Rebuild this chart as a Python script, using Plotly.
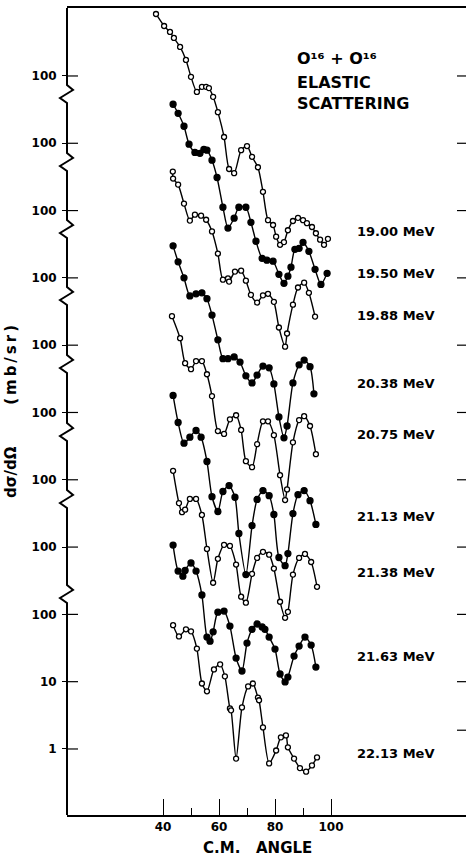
import math
import plotly.graph_objects as go

# ---------------- data (C.M. angle in degrees, dσ/dΩ in mb/sr) ----------------
energies = ["19.00 MeV", "19.50 MeV", "19.88 MeV", "20.38 MeV", "20.75 MeV",
            "21.13 MeV", "21.38 MeV", "21.63 MeV", "22.13 MeV"]
decade_shift = [8, 7, 6, 5, 4, 3, 2, 1, 0]          # each curve displaced by decades
filled = [False, True, False, True, False, True, False, True, False]

ang_1900 = [37.5, 40.4, 42.5, 43.9, 46.1, 48.2, 50.0, 52.1, 53.9, 55.4, 56.4, 57.9, 59.6, 61.8, 63.6, 65.4,
            67.9, 70.0, 71.8, 73.9, 75.7, 77.5, 79.3, 80.4, 81.8, 83.2, 84.6, 86.4, 88.2, 90.0, 91.4, 93.2,
            94.6, 96.1, 97.5, 98.9]
sig_1900 = [834, 553, 451, 367, 270, 173, 97, 58, 69, 69, 66, 49, 29, 12.4, 4.15, 3.6,
            7.9, 9.1, 6.3, 4.4, 1.9, 0.72, 0.61, 0.41, 0.31, 0.34, 0.51, 0.70, 0.78, 0.72, 0.65, 0.57,
            0.46, 0.37, 0.31, 0.38]

ang_1950 = [43.6, 45.4, 47.5, 49.3, 51.4, 53.2, 54.6, 55.7, 57.5, 59.3, 61.4, 63.2, 65.4, 67.1, 69.6, 71.4,
            73.2, 75.4, 77.1, 79.3, 81.4, 83.2, 84.6, 85.7, 87.1, 88.6, 90.0, 92.1, 94.3, 96.4, 98.6]
sig_1950 = [380, 279, 179, 97, 73, 71, 81, 79, 56, 31, 11.2, 5.5, 7.7, 11.2, 11.2, 6.7,
            3.5, 1.95, 1.83, 1.77, 1.13, 0.83, 1.06, 1.44, 2.66, 2.75, 3.38, 2.48, 1.34, 0.80, 1.17]

ang_1988 = [43.5, 43.6, 45.4, 47.5, 49.6, 51.4, 53.6, 55.4, 57.5, 59.6, 61.4, 63.2, 63.6, 65.7, 67.9, 69.6,
            71.4, 73.6, 75.7, 77.5, 79.6, 81.4, 83.6, 84.3, 86.4, 88.2, 90.4, 92.1, 94.3]
sig_1988 = [380, 299, 243, 127, 71, 87, 84, 73, 49, 23, 9.4, 9.8, 8.8, 12.4, 12.8, 9.1,
            5.6, 4.3, 5.5, 5.8, 4.4, 1.83, 0.95, 1.49, 4.0, 7.2, 8.5, 6.0, 2.66]

ang_2038 = [43.6, 45.4, 47.5, 49.6, 51.8, 53.9, 55.7, 57.5, 59.6, 61.4, 63.2, 65.4, 67.5, 69.6, 71.8, 73.6,
            75.7, 77.9, 79.6, 81.4, 83.2, 84.3, 86.4, 88.6, 90.4, 92.5, 93.9]
sig_2038 = [299, 173, 100, 54, 58, 60, 49, 28, 12.0, 6.3, 6.3, 6.7, 5.6, 3.5, 2.75, 3.6,
            4.9, 4.6, 2.66, 0.86, 0.42, 0.63, 2.75, 5.1, 6.0, 4.8, 1.89]

ang_2075 = [43.2, 46.1, 47.9, 50.0, 51.8, 53.9, 55.7, 57.5, 59.6, 61.8, 63.9, 66.1, 67.9, 69.6, 71.8, 73.6,
            75.7, 77.5, 79.6, 81.8, 83.6, 84.3, 86.4, 88.6, 90.4, 92.5, 94.6]
sig_2075 = [270, 127, 54, 44, 58, 58, 37, 17.5, 5.3, 4.8, 7.9, 9.1, 5.5, 1.89, 1.54, 3.38,
            7.4, 7.4, 4.6, 1.17, 0.50, 0.72, 3.6, 7.7, 8.8, 6.3, 2.40]

ang_2113 = [43.6, 45.4, 47.5, 49.6, 51.8, 53.6, 55.7, 57.5, 59.6, 61.4, 63.6, 65.7, 67.1, 69.6, 71.8, 73.6,
            75.7, 77.9, 79.6, 81.4, 83.6, 84.6, 86.4, 88.2, 90.4, 92.5, 94.6]
sig_2113 = [179, 71, 35, 43, 54, 43, 18.7, 5.6, 3.38, 6.7, 8.2, 5.5, 1.59, 0.39, 2.09, 5.1,
            6.9, 5.8, 3.05, 0.70, 0.53, 0.80, 3.15, 6.0, 6.9, 4.9, 2.17]

ang_2138 = [43.6, 45.7, 46.8, 47.9, 49.6, 51.8, 53.9, 55.7, 57.9, 59.6, 61.8, 63.9, 66.1, 67.9, 69.6, 71.8,
            73.6, 75.7, 77.9, 79.6, 81.8, 83.6, 84.6, 86.4, 88.6, 90.7, 92.9, 95.0]
sig_2138 = [136, 45, 33, 36, 52, 52, 30, 9.4, 2.95, 6.7, 10.8, 10.4, 5.5, 1.83, 1.49, 4.0,
            6.9, 8.5, 7.7, 4.8, 1.54, 0.89, 1.09, 3.9, 6.9, 7.9, 6.0, 2.57]

ang_2163 = [43.6, 45.4, 47.1, 47.9, 50.0, 51.8, 53.9, 55.7, 56.8, 57.9, 59.6, 61.8, 63.9, 66.1, 68.2, 70.0,
            71.8, 73.6, 75.4, 76.4, 77.9, 80.0, 81.8, 83.6, 84.6, 86.8, 88.6, 90.7, 92.9, 94.6]
sig_2163 = [107, 44, 37, 45, 58, 44, 19.4, 4.6, 4.0, 5.5, 10.8, 11.2, 6.7, 2.24, 1.44, 3.75,
            6.0, 7.2, 6.5, 6.0, 4.6, 3.05, 1.30, 0.99, 1.17, 2.40, 3.38, 4.6, 3.5, 1.65]

ang_2213 = [43.6, 45.7, 48.2, 50.0, 52.1, 53.9, 55.7, 58.2, 60.4, 62.1, 63.9, 64.3, 66.1, 68.2, 70.4, 72.1,
            73.9, 74.3, 75.7, 77.9, 80.4, 82.1, 83.9, 84.6, 86.8, 88.9, 91.1, 93.2, 95.0]
sig_2213 = [69, 47, 60, 56, 31, 9.4, 7.2, 15.2, 18.1, 12.0, 4.0, 3.75, 0.72, 4.15, 8.5, 9.4,
            5.8, 5.3, 2.09, 0.61, 0.95, 1.49, 1.59, 1.06, 0.72, 0.52, 0.46, 0.57, 0.75]

angles = [ang_1900, ang_1950, ang_1988, ang_2038, ang_2075, ang_2113, ang_2138, ang_2163, ang_2213]
sigmas = [sig_1900, sig_1950, sig_1988, sig_2038, sig_2075, sig_2113, sig_2138, sig_2163, sig_2213]

x_tick_vals = [40, 60, 80, 100]
x_minor_vals = [50, 70, 90]
y_tick_vals = [1, 10, 100, 1e3, 1e4, 1e5, 1e6, 1e7, 1e8, 1e9, 1e10]
y_tick_text = ["1", "10", "100", "100", "100", "100", "100", "100", "100", "100", "100"]
y_right_tick_vals = [1.9, 10, 100, 1e3, 1e4, 1e5, 1e6, 1e7, 1e8, 1e9, 1e10]

# ---------------- layout geometry ----------------
W, H = 466, 858
ML, MR, MT, MB = 67, 0, 8, 43
PW, PH = W - ML - MR, H - MT - MB
X_RANGE = [5.72, 148.2]
Y_RANGE = [-0.981, 11.01]

def px_to_paper(px, py):
    return (px - ML) / PW, (H - MB - py) / PH

def logval_to_paper(v):
    return (math.log10(v) - Y_RANGE[0]) / (Y_RANGE[1] - Y_RANGE[0])

FONT = "DejaVu Sans"
TS = "\u2009"   # thin space
NB = "\u00a0"

fig = go.Figure()
for ang, sig, k, full in zip(angles, sigmas, decade_shift, filled):
    fig.add_trace(go.Scatter(
        x=ang, y=[v * 10 ** k for v in sig], mode="lines+markers",
        line=dict(color="black", width=1.4, shape="spline", smoothing=0.7),
        marker=dict(symbol="circle", size=6.0 if full else 5.0,
                    color="black" if full else "white",
                    line=dict(color="black", width=1.3)),
        showlegend=False, cliponaxis=False, hoverinfo="skip"))

fig.update_layout(
    width=W, height=H, margin=dict(l=ML, r=MR, t=MT, b=MB, pad=0),
    paper_bgcolor="white", plot_bgcolor="white",
    font=dict(family=FONT, color="black", size=12),
    xaxis=dict(range=X_RANGE, showgrid=False, zeroline=False,
               showline=True, linecolor="black", linewidth=2, mirror=True,
               tickvals=x_tick_vals, ticktext=[str(v) for v in x_tick_vals],
               ticks="inside", ticklen=16, tickwidth=1.2, tickcolor="black",
               tickfont=dict(family=FONT, size=12, weight="bold"),
               minor=dict(tickvals=x_minor_vals, ticks="inside", ticklen=7,
                          tickwidth=1.2, tickcolor="black")),
    yaxis=dict(type="log", range=Y_RANGE, showgrid=False, zeroline=False,
               showline=False, tickvals=y_tick_vals, ticktext=y_tick_text,
               ticks="outside", ticklen=4, tickwidth=1.2, tickcolor="black",
               ticklabelstandoff=3,
               tickfont=dict(family=FONT, size=12, weight="bold"),
               title=dict(text="dσ/dΩ" + NB * 8 + TS.join("(mb/sr)"), standoff=11,
                          font=dict(family=FONT, size=15, weight="bold"))),
)

# inner left ticks and right-hand ticks
for v in y_tick_vals:
    yp = logval_to_paper(v)
    fig.add_shape(type="line", xref="paper", yref="paper", x0=0, x1=11 / PW, y0=yp, y1=yp,
                  line=dict(color="black", width=1.2))
for v in y_right_tick_vals:
    yp = logval_to_paper(v)
    fig.add_shape(type="line", xref="paper", yref="paper", x0=1 - 9 / PW, x1=1, y0=yp, y1=yp,
                  line=dict(color="black", width=1.2))

# left axis with break marks
zig_centers_px = [95, 163, 230, 297, 365, 433, 500, 595]
zig_shape = [(0, -10), (6, -5), (-7, 3), (0, 8)]
pts = [px_to_paper(ML, MT)]
for c in zig_centers_px:
    for dx, dy in zig_shape:
        pts.append(px_to_paper(ML + dx, c + dy))
pts.append(px_to_paper(ML, H - MB))
path = "M " + " L ".join(f"{x:.5f},{y:.5f}" for x, y in pts)
fig.add_shape(type="path", path=path, xref="paper", yref="paper",
              line=dict(color="black", width=2))

# energy labels
label_y_px = [232, 273, 315, 383, 435, 516, 572, 656, 753]
for txt, py in zip(energies, label_y_px):
    x, y = px_to_paper(355, py)
    fig.add_annotation(x=x, y=y, xref="paper", yref="paper", text=txt,
                       xanchor="left", yanchor="middle", showarrow=False,
                       font=dict(family=FONT, size=13, weight="bold"))

# title block
for txt, py in [("O\u00b9\u2076 + O\u00b9\u2076", 59), ("ELASTIC", 83), ("SCATTERING", 103)]:
    x, y = px_to_paper(295, py)
    fig.add_annotation(x=x, y=y, xref="paper", yref="paper", text=txt,
                       xanchor="left", yanchor="middle", showarrow=False,
                       font=dict(family=FONT, size=16, weight="bold"))

# x-axis title
x, y = px_to_paper(257, 848)
fig.add_annotation(x=x, y=y, xref="paper", yref="paper", text="C.M." + NB * 3 + "ANGLE",
                   xanchor="center", yanchor="middle", showarrow=False,
                   font=dict(family=FONT, size=15, weight="bold"))

fig.write_html("out.html")
